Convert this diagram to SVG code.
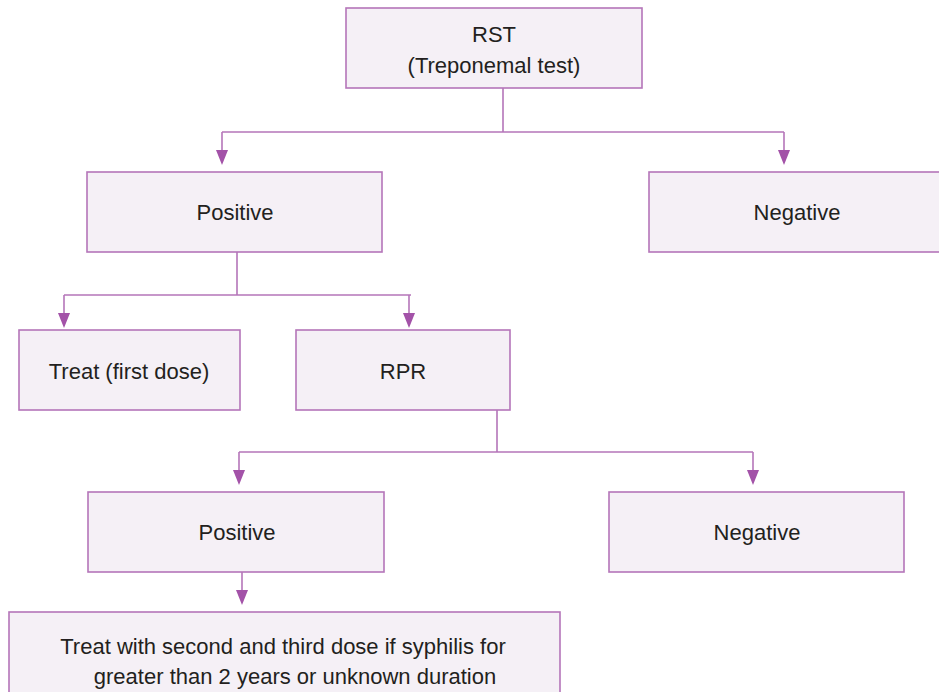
<svg xmlns="http://www.w3.org/2000/svg" width="939" height="692" viewBox="0 0 939 692">
<style>
.box{fill:#f5f0f6;stroke:#b575b9;stroke-width:1.6}
.ln{fill:none;stroke:#b575b9;stroke-width:1.6}
.ah{fill:#a352a8}
text{font-family:"Liberation Sans",Arial,sans-serif;font-size:22px;fill:#231f20;text-anchor:middle}
</style>
<rect width="939" height="692" fill="#ffffff"/>
<g id="connectors">
<path class="ln" d="M503,88 V132 M222,132 H784"/>
<path class="ln" d="M222,132 V152"/>
<path class="ln" d="M784,132 V152"/>
<path class="ln" d="M237,252 V295 M64,295 H411"/>
<path class="ln" d="M64,295 V315"/>
<path class="ln" d="M409,295 V315"/>
<path class="ln" d="M497,410 V452 M239,452 H753"/>
<path class="ln" d="M239,452 V472"/>
<path class="ln" d="M753,452 V472"/>
<path class="ln" d="M242,572 V592"/>
<path class="ah" d="M216,150 L228,150 L222,165 Z"/>
<path class="ah" d="M778,150 L790,150 L784,165 Z"/>
<path class="ah" d="M58,313 L70,313 L64,328 Z"/>
<path class="ah" d="M403,313 L415,313 L409,328 Z"/>
<path class="ah" d="M233,470 L245,470 L239,485 Z"/>
<path class="ah" d="M747,470 L759,470 L753,485 Z"/>
<path class="ah" d="M236,590 L248,590 L242,605 Z"/>
</g>
<g id="rst">
<rect class="box" x="346" y="8" width="296" height="80"/>
<text x="494" y="42">RST</text>
<text x="494" y="73">(Treponemal test)</text>
</g>
<g id="positive1">
<rect class="box" x="87" y="172" width="295" height="80"/>
<text x="235" y="220">Positive</text>
</g>
<g id="negative1">
<rect class="box" x="649" y="172" width="295" height="80"/>
<text x="797" y="220">Negative</text>
</g>
<g id="treat1">
<rect class="box" x="19" y="330" width="221" height="80"/>
<text x="129" y="379">Treat (first dose)</text>
</g>
<g id="rpr">
<rect class="box" x="296" y="330" width="214" height="80"/>
<text x="403" y="379">RPR</text>
</g>
<g id="positive2">
<rect class="box" x="88" y="492" width="296" height="80"/>
<text x="237" y="540">Positive</text>
</g>
<g id="negative2">
<rect class="box" x="609" y="492" width="295" height="80"/>
<text x="757" y="540">Negative</text>
</g>
<g id="treat2">
<rect class="box" x="9" y="612" width="551" height="90"/>
<text x="283" y="654">Treat with second and third dose if syphilis for</text>
<text x="295" y="684">greater than 2 years or unknown duration</text>
</g>
</svg>
